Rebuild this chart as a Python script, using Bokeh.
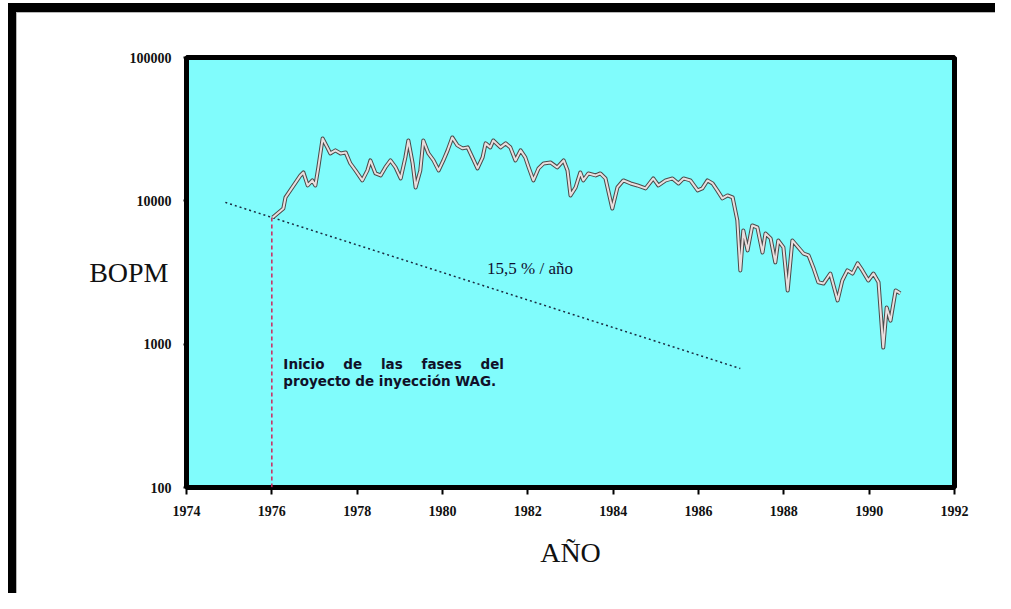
from bokeh.plotting import figure
from bokeh.models import FixedTicker, Div, ColumnDataSource
from bokeh.layouts import column, row
from bokeh.core.properties import value
from bokeh.embed import file_html
from bokeh.resources import INLINE

# ---------------- data ----------------
YEARS = [1976.02, 1976.27, 1976.32, 1976.48, 1976.67, 1976.74, 1976.84, 1976.95, 1977.02, 1977.09,
         1977.19, 1977.30, 1977.37, 1977.49, 1977.61, 1977.73, 1977.84, 1977.96, 1978.12, 1978.24,
         1978.31, 1978.43, 1978.55, 1978.66, 1978.78, 1978.90, 1979.02, 1979.13, 1979.20, 1979.30,
         1979.37, 1979.48, 1979.55, 1979.67, 1979.79, 1979.91, 1980.02, 1980.12, 1980.23, 1980.35,
         1980.47, 1980.59, 1980.70, 1980.82, 1980.94, 1981.01, 1981.12, 1981.19, 1981.36, 1981.48,
         1981.59, 1981.71, 1981.83, 1981.94, 1982.02, 1982.13, 1982.25, 1982.37, 1982.53, 1982.69,
         1982.84, 1982.93, 1983.00, 1983.12, 1983.23, 1983.30, 1983.42, 1983.59, 1983.70, 1983.82,
         1983.98, 1984.10, 1984.24, 1984.41, 1984.57, 1984.76, 1984.94, 1985.06, 1985.23, 1985.39,
         1985.53, 1985.65, 1985.81, 1985.98, 1986.09, 1986.21, 1986.33, 1986.44, 1986.56, 1986.68,
         1986.80, 1986.91, 1986.98, 1987.05, 1987.15, 1987.26, 1987.38, 1987.50, 1987.57, 1987.69,
         1987.80, 1987.87, 1987.99, 1988.09, 1988.20, 1988.34, 1988.46, 1988.58, 1988.69, 1988.81,
         1988.93, 1989.09, 1989.26, 1989.37, 1989.49, 1989.61, 1989.73, 1989.84, 1989.98, 1990.10,
         1990.22, 1990.33, 1990.41, 1990.50, 1990.62, 1990.73]
BOPM = [7660, 8850, 10560, 12410, 15040, 15780, 12800, 13880, 12800, 17100,
        27230, 23600, 21420, 22490, 21420, 21770, 18240, 16300, 13880, 16300,
        19140, 15530, 15040, 17100, 19140, 17100, 14330, 20090, 26380, 18240,
        12410, 16300, 26380, 21420, 19140, 16300, 19140, 22490, 27680, 24380,
        23230, 23600, 20090, 16830, 20090, 25170, 23600, 26380, 23600, 25170,
        23600, 19140, 22490, 20090, 17100, 13880, 16830, 18240, 18530, 17100,
        19140, 16300, 10910, 12410, 15780, 13880, 15530, 15040, 15530, 14330,
        8850, 12410, 13880, 13220, 12800, 12210, 14330, 12800, 13880, 14330,
        13220, 14330, 13880, 11830, 12210, 13880, 13220, 11830, 10400, 10910,
        10560, 7300, 3270, 6210, 4510, 6730, 6520, 4360, 5920, 5470,
        3720, 5290, 4730, 2370, 5290, 4730, 4290, 4160, 3430, 2700,
        2650, 3110, 2020, 2780, 3270, 3110, 3660, 3270, 2780, 3110,
        2700, 948, 1800, 1460, 2370, 2260]

DECLINE_YEARS = [1974.91, 1986.98]
DECLINE_BOPM = [9750, 676]

START_YEAR = [1976.0, 1976.0]
START_BOPM = [100, 7660]

X_TICKS = [1974, 1976, 1978, 1980, 1982, 1984, 1986, 1988, 1990, 1992]
Y_TICKS = [100, 1000, 10000, 100000]
Y_TICK_LABELS = ["100", "1000", "10000", "100000"]

RATE_TEXT = "15,5 % / año"
RATE_POS = (1982.05, 3380)
NB = "\u00a0"
NOTE_LINES = [NB.join(["Inicio", "", "", "", "de", "", "", "", "las", "", "", "", "fases", "", "", "", "del"]),
              "proyecto de inyección WAG."]
NOTE_X = 1976.27
NOTE_Y = [733, 550]

# ---------------- figure ----------------
W, H = 978, 580
p = figure(width=W, height=H, output_backend="svg", toolbar_location=None,
           x_range=(1974, 1992), y_range=(100, 100000), y_axis_type="log",
           min_border_left=169, min_border_right=41, min_border_top=44, min_border_bottom=H - 474)

p.background_fill_color = "#80fcfc"
p.border_fill_color = "white"
p.outline_line_color = "black"
p.outline_line_width = 5
p.grid.visible = False

serif = "Liberation Serif"
p.xaxis.ticker = FixedTicker(ticks=X_TICKS)
p.yaxis.ticker = FixedTicker(ticks=Y_TICKS)
p.yaxis.major_label_overrides = {t: l for t, l in zip(Y_TICKS, Y_TICK_LABELS)}
p.xaxis.major_label_overrides = {t: str(t) for t in X_TICKS}
for ax in (p.xaxis, p.yaxis):
    ax.axis_line_color = None
    ax.minor_tick_line_color = None
    ax.major_tick_line_color = "black"
    ax.major_tick_line_width = 2
    ax.major_tick_in = 0
    ax.major_label_text_font = serif
    ax.major_label_text_font_style = "bold"
    ax.major_label_text_font_size = "14px"
    ax.major_label_text_color = "#111111"
    ax.axis_label_text_font = serif
    ax.axis_label_text_font_style = "normal"
    ax.axis_label_text_font_size = "28px"
    ax.axis_label_text_color = "#111111"
p.xaxis.major_tick_out = 7
p.xaxis.major_label_standoff = 11
p.yaxis.major_tick_out = 3
p.yaxis.major_label_standoff = 12

p.xaxis.axis_label = "AÑO"
p.xaxis.axis_label_standoff = 18

p.yaxis.axis_label = "BOPM"
p.yaxis.axis_label_orientation = "horizontal"
p.yaxis.axis_label_standoff = -42

# start-of-project vertical line
p.line(START_YEAR, START_BOPM, line_color="#d0245a", line_width=1.5, line_dash="4 3")
# decline trend line
p.line(DECLINE_YEARS, DECLINE_BOPM, line_color="#1a2a40", line_width=1.5, line_dash="2 3")

# production line (shadow + light core)
src = ColumnDataSource(dict(x=YEARS, y=BOPM))
p.line("x", "y", source=src, line_color="#4a4a4a", line_width=4, line_join="round")
p.line("x", "y", source=src, line_color="#eadede", line_width=2, line_join="round")

p.text(x=[RATE_POS[0]], y=[RATE_POS[1]], text=[RATE_TEXT], text_font=value(serif),
       text_font_size="17px", text_align="center", text_baseline="middle", text_color="#101030")
p.text(x=[NOTE_X, NOTE_X], y=NOTE_Y, text=NOTE_LINES, text_font=value("DejaVu Sans"),
       text_font_style="bold", text_font_size="13.5px", text_align="left",
       text_baseline="middle", text_color="#101028")


def band(w, h, color):
    return Div(width=w, height=h, margin=0, styles={"background-color": color})


frame_col = column(
    band(987, 3, "white"),
    band(987, 9, "black"),
    row(band(8, 581, "black"),
        column(band(979, 1, "#b8b8b8"),
               row(band(1, 580, "#b8b8b8"), p, spacing=0),
               spacing=0),
        spacing=0),
    spacing=0)
layout = row(band(8, 593, "white"), frame_col, spacing=0)

open("out.html", "w").write(file_html(layout, INLINE))
